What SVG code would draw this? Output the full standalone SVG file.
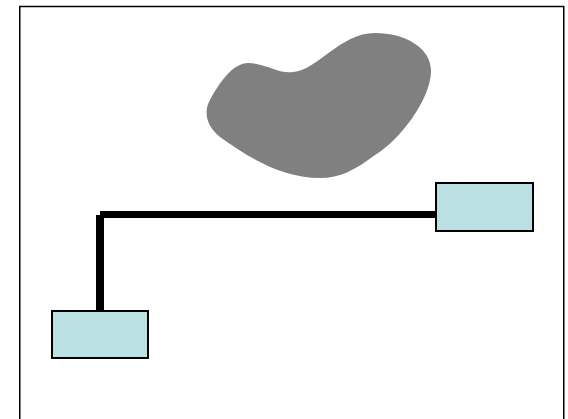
<svg xmlns="http://www.w3.org/2000/svg" width="568" height="419" viewBox="0 0 568 419">
<style>
.node{fill:#bbe0e3;stroke:#000;stroke-width:2}
.conn{stroke:#000;fill:none}
</style>
<rect x="0" y="0" width="568" height="419" fill="#fff"/>
<rect x="19.75" y="6.5" width="544" height="430" fill="none" stroke="#000" stroke-width="1.5"/>
<g id="blob">
<path d="M 248,63 C 265,63 278,74 293,72 C 318,70 340,33 375,33 C 405,33 432,48 431,72 C 430,100 400,140 375,155 C 355,170 340,178 320,178 C 280,178 245,155 220,137 C 205,125 204,110 210,100 C 218,85 232,63 248,63 Z" fill="#808080"/>
</g>
<g id="connectors">
<line class="conn" x1="100" y1="214.5" x2="436" y2="214.5" stroke-width="7"/>
<line class="conn" x1="100" y1="215" x2="100" y2="312" stroke-width="8"/>
</g>
<g id="node-right">
<rect class="node" x="436" y="183" width="97" height="48"/>
</g>
<g id="node-left">
<rect class="node" x="52" y="311" width="96" height="47"/>
</g>
</svg>
